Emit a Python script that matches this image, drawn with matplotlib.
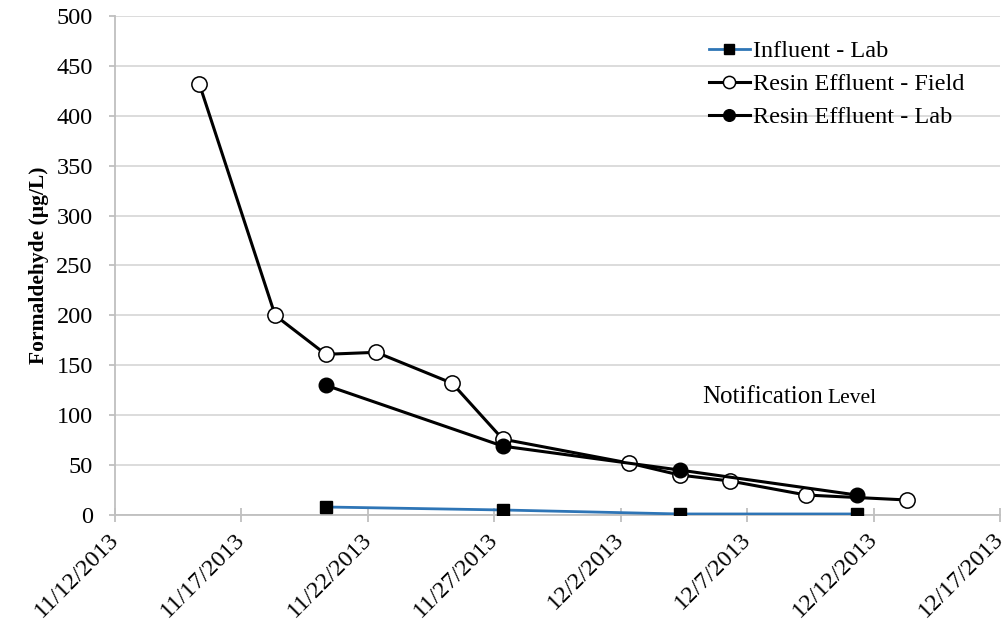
import datetime as dt
import matplotlib
matplotlib.use("Agg")
import matplotlib.pyplot as plt
import matplotlib.dates as mdates
import matplotlib.transforms as mtransforms
from matplotlib.ticker import FuncFormatter, MultipleLocator

plt.rcParams['font.family'] = ['Liberation Serif', 'DejaVu Serif']

# sample dates (taken around 8 am)
influent_dates = ["2013-11-20", "2013-11-27", "2013-12-04", "2013-12-11"]
influent_lab = [8, 5, 1, 1]

field_dates = ["2013-11-15", "2013-11-18", "2013-11-20", "2013-11-22", "2013-11-25",
               "2013-11-27", "2013-12-02", "2013-12-04", "2013-12-06", "2013-12-09",
               "2013-12-13"]
resin_field = [432, 200, 161, 163, 132, 76, 52, 40, 34, 20, 15]

lab_dates = ["2013-11-20", "2013-11-27", "2013-12-04", "2013-12-11"]
resin_lab = [130, 69, 45, 20]


def to_dt(days):
    return [dt.datetime.strptime(d, "%Y-%m-%d") + dt.timedelta(hours=8) for d in days]


fig = plt.figure(figsize=(10.02, 6.23), dpi=100)
ax = fig.add_axes([0.1148, 0.1734, 0.8832, 0.8009])

ax.plot(to_dt(influent_dates), influent_lab, color="#2E75B6", lw=2.0, marker="s",
        ms=9, mfc="black", mec="black", label="Influent - Lab", zorder=3)
ax.plot(to_dt(field_dates), resin_field, color="black", lw=2.2, marker="o",
        ms=11, mfc="white", mec="black", mew=1.1, label="Resin Effluent - Field", zorder=4)
ax.plot(to_dt(lab_dates), resin_lab, color="black", lw=2.2, marker="o",
        ms=10.5, mfc="black", mec="black", label="Resin Effluent - Lab", zorder=5)

ax.set_xlim(dt.datetime(2013, 11, 12), dt.datetime(2013, 12, 17))
ax.set_ylim(0, 500)
ticks = [dt.datetime(2013, 11, 12) + dt.timedelta(days=5 * i) for i in range(8)]
ax.set_xticks(ticks)
ax.xaxis.set_major_formatter(FuncFormatter(
    lambda v, pos: (lambda d: f"{d.month}/{d.day}/{d.year}")(mdates.num2date(v))))
ax.yaxis.set_major_locator(MultipleLocator(50))

ax.grid(axis="y", color="#D9D9D9", lw=1.3)
ax.set_axisbelow(True)
for s in ["top", "right"]:
    ax.spines[s].set_visible(False)
for s in ["left", "bottom"]:
    ax.spines[s].set_color("#BFBFBF")
    ax.spines[s].set_linewidth(1.3)

ax.tick_params(axis="x", direction="inout", length=10, width=1.3, color="#BFBFBF",
               labelsize=17.5, pad=5)
ax.tick_params(axis="y", direction="out", length=4, width=1.3, color="#BFBFBF",
               labelsize=17.5, pad=12)
shift = mtransforms.ScaledTranslation(-0.07, 0, fig.dpi_scale_trans)
for lbl in ax.get_xticklabels():
    lbl.set_rotation(45)
    lbl.set_ha("right")
    lbl.set_rotation_mode("anchor")
    lbl.set_transform(lbl.get_transform() + shift)

ax.set_ylabel("Formaldehyde (µg/L)", fontsize=15.5, fontweight="bold", labelpad=5)

ax.legend(loc="upper right", bbox_to_anchor=(0.985, 0.995), frameon=False, fontsize=17.5,
          handlelength=1.7, handletextpad=0.15, labelspacing=0.45, markerscale=0.8)

note = ax.text(dt.datetime(2013, 12, 5, 5, 30), 112, "Notification", fontsize=18,
               va="baseline")
ax.annotate("Level", xy=(1, 0), xycoords=note, xytext=(3, 0),
            textcoords="offset points", fontsize=15.5, va="bottom")

fig.savefig("out.png", dpi=100)
